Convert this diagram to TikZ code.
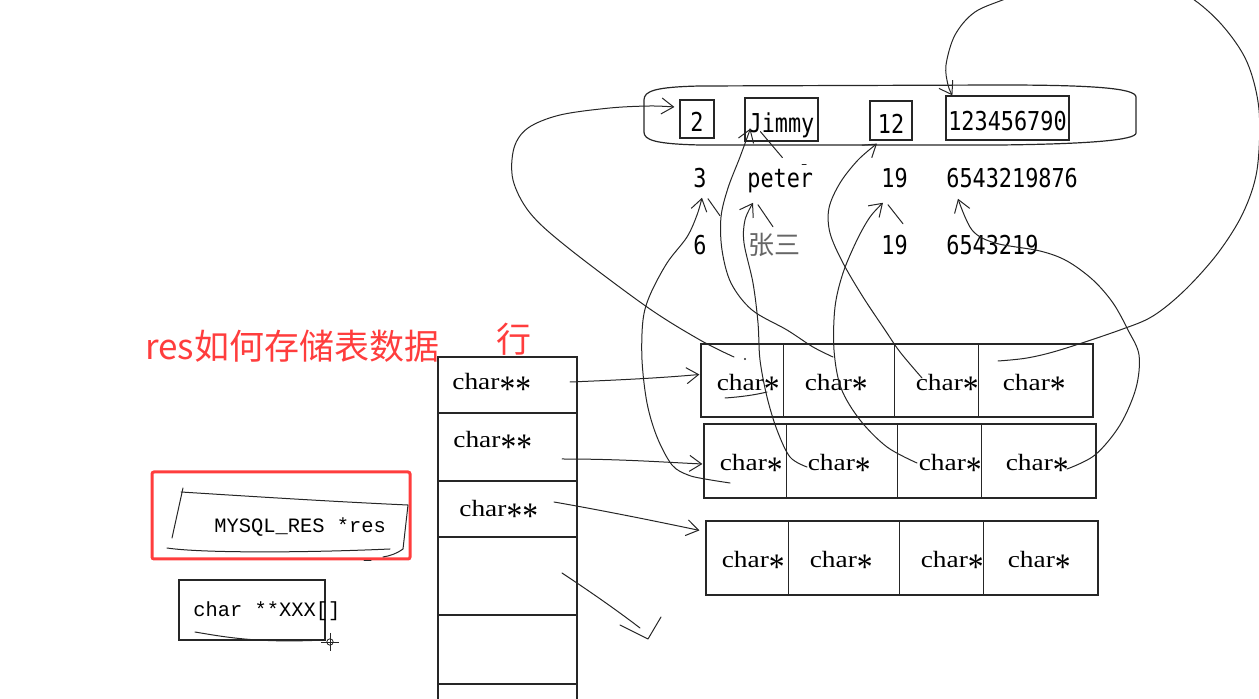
\documentclass[tikz,border=0pt]{standalone}
\usepackage{fontspec}
\usepackage{graphicx}
\setmainfont{Liberation Serif}
\newfontfamily\cjk{Noto Sans CJK SC}
\newfontfamily\valfont[FakeStretch=0.84]{DejaVu Sans Mono}
\newfontfamily\ptrfont[FakeStretch=1.17]{Liberation Serif}
\newfontfamily\srcfont{Liberation Mono}
\usetikzlibrary{arrows.meta,calc}
\definecolor{hint}{HTML}{FF3D3D}
\colorlet{ink}{black!85}
\colorlet{hanzi}{black!60}
\newcommand\ptrstar{\raisebox{-0.49em}{\scalebox{1.15}[1.6]{*}}}
\tikzset{
  valbox/.style={draw=ink,line width=0.6pt,inner sep=0pt,text height=13pt,text depth=0pt,
    font=\valfont\fontsize{13pt}{15pt}\selectfont},
  valtext/.style={inner sep=0pt,font=\valfont\fontsize{13pt}{15pt}\selectfont},
  cellrow/.style={draw=ink,line width=0.6pt,inner sep=0pt,minimum width=196pt},
  ptrtext/.style={inner sep=0pt,font=\ptrfont\fontsize{11.7pt}{14pt}\selectfont},
  srctext/.style={inner sep=0pt,font=\srcfont\fontsize{10.2pt}{12pt}\selectfont},
  inkline/.style={ink,line width=0.5pt,line cap=round,line join=round},
  handarrow/.style={inkline,-{Straight Barb[length=6pt,width=8pt]}},
}

\begin{document}
\begin{tikzpicture}[x=0.5pt,y=-0.5pt]
  \useasboundingbox (0,0) rectangle (1259,699);

  % the table: one record inside the capsule, two more below
  \draw[ink,line width=0.6pt] (700,86) -- (1000,85)
    .. controls (1090,85) and (1136,88) .. (1136,97) -- (1136,133)
    .. controls (1136,140) and (1090,144) .. (1000,145) -- (700,145)
    .. controls (655,144) and (644,140) .. (644,132) -- (644,100)
    .. controls (644,91) and (655,87) .. (700,86) -- cycle;
  \node[valbox,minimum width=17pt,minimum height=19pt] (v11) at (697,119) {2};
  \node[valbox,minimum width=36.5pt,minimum height=21.5pt] (v12) at (781.5,119.5) {Jimmy};
  \node[valbox,minimum width=21pt,minimum height=19.5pt] (v13) at (891,120.5) {12};
  \node[valbox,minimum width=61.5pt,minimum height=22pt] (v14) at (1007.5,118) {123456790};

  \node[valtext,anchor=base] (v21) at (700,188) {3};
  \node[valtext,anchor=base west] (v22) at (747,188) {peter};
  \node[valtext,anchor=base west] (v23) at (881,188) {19};
  \node[valtext,anchor=base west] (v24) at (946,188) {6543219876};
  \node[valtext,anchor=base] (v31) at (700,255) {6};
  \node[anchor=base west,inner sep=0pt,hanzi,font=\cjk\fontsize{13pt}{15pt}\selectfont] (v32) at (748,255) {张三};
  \node[valtext,anchor=base west] (v33) at (881,255) {19};
  \node[valtext,anchor=base west] (v34) at (946,255) {6543219};

  % title
  \node[anchor=base west,inner sep=0pt,text=hint,font=\cjk\fontsize{17.5pt}{20pt}\selectfont] (title) at (145,360) {res如何存储表数据};
  \node[anchor=base west,inner sep=0pt,text=hint,font=\cjk\fontsize{17.5pt}{20pt}\selectfont] (rowlbl) at (496,353) {行};

  % char** column
  \draw[ink,line width=0.6pt] (438,705) -- (438,357) -- (577,357) -- (577,705);
  \foreach \y in {413,481,537,615,684}
    \draw[ink,line width=0.6pt] (438,\y) -- (577,\y);
  \node[ptrtext,anchor=base west] (q1) at (452,390) {char\ptrstar\ptrstar};
  \node[ptrtext,anchor=base west] (q2) at (453,448) {char\ptrstar\ptrstar};
  \node[ptrtext,anchor=base west] (q3) at (459,517) {char\ptrstar\ptrstar};

  % char* rows
  \node[cellrow,minimum height=36.5pt] (row1) at (897,380.5) {};
  \node[cellrow,minimum height=37pt] (row2) at (900,461) {};
  \node[cellrow,minimum height=37pt] (row3) at (902,558) {};
  \foreach \r in {1,2,3} {
    \foreach \d in {83,194,278}
      \draw[ink,line width=0.6pt] ($(row\r.north west)+(\d,0)$) -- ($(row\r.south west)+(\d,0)$);
    \foreach \c/\o in {1/16,2/104,3/215,4/302}
      \node[ptrtext,anchor=base west] (p\r\c) at ($(row\r.west)+(\o,10)$) {char\ptrstar};
  }

  % MYSQL_RES and the array
  \node[draw=hint,line width=1.5pt,rounded corners=1pt,minimum width=129pt,minimum height=43.5pt] (resbox) at (281,515.5) {};
  \node[srctext,anchor=base west] (res) at (214,533) {MYSQL\_RES *res};
  \draw[inkline] (181,492) .. controls (260,497) and (340,502) .. (408,505)
    -- (403,549) .. controls (398,553) and (390,556) .. (383,557);
  \draw[inkline] (183,488) -- (172,538);
  \draw[inkline] (167,548) .. controls (200,553) and (300,553) .. (390,549);
  \draw[inkline] (364,561) -- (371,561);
  \node[draw=ink,line width=0.6pt,minimum width=73pt,minimum height=30pt,inner sep=0pt] (xbox) at (252,610) {};
  \node[srctext,anchor=base west] (xxx) at (193,617) {char **XXX[]};
  \draw[inkline] (195,632) .. controls (230,638) and (260,643) .. (325,640);
  \draw[ink,line width=0.4pt] (330,633) -- (330,651) (321,642) -- (339,642);
  \draw[ink,line width=0.4pt] (330,642) circle (1.6pt);

  % start points of the strokes
  \coordinate (fromq1) at (570,382);
  \coordinate (fromq2) at (562,459);
  \coordinate (fromq3) at (554,502);
  \coordinate (fromA) at (734,357);
  \coordinate (fromB) at (833,357);
  \coordinate (fromC) at (922,378);
  \coordinate (fromD) at (998,361);
  \coordinate (fromE) at (730,483);
  \coordinate (fromF) at (807,467);
  \coordinate (fromG) at (917,463);
  \coordinate (fromH) at (1067,469);
  \coordinate (tipA) at ($(v11.west)+(-5,-12)$);
  \coordinate (tipB) at ($(v12.south west)+(6,-13)$);
  \coordinate (tipC) at ($(v13.south)+(-14,3)$);
  \coordinate (tipD) at ($(v14.north west)+(7,0)$);
  \coordinate (tipE) at ($(v21.south)+(2,9)$);
  \coordinate (tipF) at ($(v22.south west)+(6,9)$);
  \coordinate (tipG) at ($(v23.south west)+(2,14)$);
  \coordinate (tipH) at ($(v24.south west)+(12,10)$);

  % rows
  \draw[handarrow] (fromq1) .. controls (620,380) and (660,378) .. ($(row1.west)+(-1,-6)$);
  \draw[handarrow] (fromq2) .. controls (620,459) and (660,462) .. ($(row2.west)+(-1,3)$);
  \draw[handarrow] (fromq3) .. controls (600,510) and (650,520) .. ($(row3.north west)+(-6,10)$);
  \draw[inkline] (562,573) .. controls (580,585) and (610,605) .. (640,628);
  \draw[inkline] (620,625) -- (648,639) -- (661,617);

  % char* -> values
  \draw[handarrow] plot[smooth,tension=0.55] coordinates {(fromA) (700,340) (647,307) (567,247)
    (530,213) (513,180) (514,148) (528,128) (560,115) (610,108) (650,106) (tipA)};
  \draw[handarrow] plot[smooth,tension=0.55] coordinates {(fromB) (813,347) (787,330) (752,310)
    (731,283) (722,250) (721,217) (728,188) (740,157) (tipB)};
  \draw[handarrow] plot[smooth,tension=0.55] coordinates {(fromC) (900,352) (885,330) (863,297)
    (843,263) (830,233) (829,208) (840,183) (858,160) (tipC)};
  \draw[handarrow] plot[smooth,tension=0.55] coordinates {(fromD) (1027,358) (1060,350) (1120,330)
    (1153,316) (1185,290) (1218,253) (1243,213) (1257,170) (1259,110) (1247,62) (1222,25)
    (1190,-3) (1150,-22) (1060,-25) (1010,-3) (975,12) (955,35) (946,65) (948,85) (tipD)};
  \draw[handarrow] plot[smooth,tension=0.55] coordinates {(fromE) (705,479) (688,475) (672,465)
    (657,437) (647,403) (642,360) (643,320) (650,295) (667,263) (687,237) (697,215) (tipE)};
  \draw[handarrow] plot[smooth,tension=0.55] coordinates {(fromF) (790,457) (777,430) (767,397)
    (760,360) (758,323) (753,283) (744,243) (745,220) (tipF)};
  \draw[handarrow] plot[smooth,tension=0.55] coordinates {(fromG) (887,447) (860,420) (841,388)
    (834,350) (835,307) (843,273) (857,240) (870,217) (tipG)};
  \draw[handarrow] plot[smooth,tension=0.55] coordinates {(fromH) (1095,455) (1120,425) (1136,388)
    (1139,355) (1128,330) (1113,303) (1093,280) (1067,261) (1040,251) (995,243) (972,230) (tipH)};

  % loose pen marks
  \draw[inkline] ($(v12.south west)+(16,-10)$) -- ($(v12.south west)+(38,16)$);
  \draw[inkline] ($(v21.south)+(8,10)$) -- ($(v21.south)+(20,27)$);
  \draw[inkline] ($(v22.south west)+(11,11)$) -- ($(v22.south west)+(26,33)$);
  \draw[inkline] ($(v23.south west)+(7,16)$) -- ($(v23.south west)+(22,35)$);
  \draw[inkline] (725,398) .. controls (740,397) and (755,395) .. (767,392);
  \fill[ink] (745,359) circle (0.6pt);
  \draw[inkline] (802,165) -- (806,165);
\end{tikzpicture}
\end{document}
